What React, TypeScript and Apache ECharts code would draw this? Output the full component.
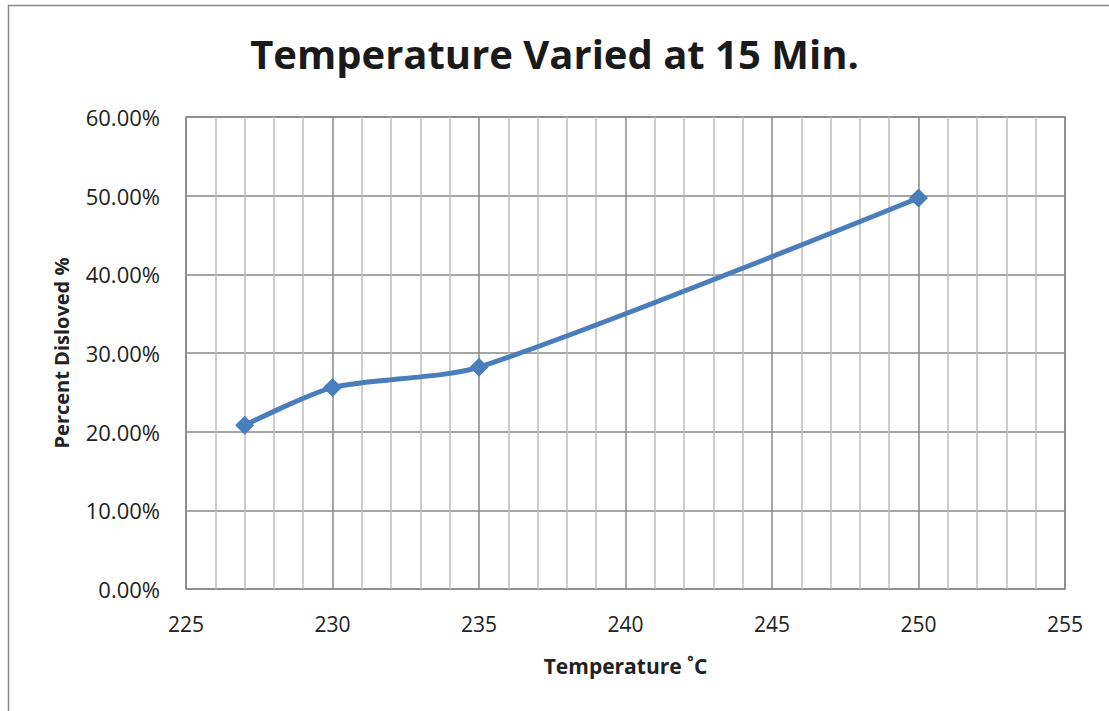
import React, { useEffect, useRef } from "react";
import * as echarts from "echarts";

const temperatures = [227, 230, 235, 250];
const dissolved = [0.208, 0.256, 0.282, 0.497];
const titleText = "Temperature Varied at 15 Min.";
const xName = "Temperature ˚C";
const yName = "Percent Disloved %";

export default function App() {
  const ref = useRef<HTMLDivElement>(null);
  useEffect(() => {
    document.body.style.margin = "0";
    const chart = echarts.init(ref.current!, null, { renderer: "svg" });
    const font = "'Open Sans', 'Noto Sans', sans-serif";
    chart.setOption({
      animation: false,
      backgroundColor: "#fff",
      textStyle: { fontFamily: font },
      title: {
        text: titleText,
        left: "center",
        top: 28,
        textStyle: { fontSize: 40, fontWeight: "bold", color: "#1a1a1a", fontFamily: font },
      },
      graphic: [
        {
          type: "rect",
          shape: { x: 8.5, y: 5.5, width: 1120, height: 720 },
          style: { fill: "none", stroke: "#888", lineWidth: 1.5 },
          silent: true,
        },
      ],
      grid: {
        left: 186,
        right: 44,
        top: 117,
        bottom: 122,
        show: true,
        borderColor: "#888",
        borderWidth: 1.5,
      },
      xAxis: {
        type: "value",
        min: 225,
        max: 255,
        interval: 5,
        name: xName,
        nameLocation: "middle",
        nameGap: 66,
        nameTextStyle: { fontSize: 21, fontWeight: "bold", color: "#222" },
        axisLine: { show: false },
        axisTick: { show: false },
        axisLabel: { fontSize: 21, color: "#222", margin: 24 },
        splitLine: { show: true, lineStyle: { color: "#888", width: 1.5 } },
        minorTick: { show: false, splitNumber: 5 },
        minorSplitLine: { show: true, lineStyle: { color: "#bdbdbd", width: 1.5 } },
      },
      yAxis: {
        type: "value",
        min: 0,
        max: 0.6,
        interval: 0.1,
        name: yName,
        nameLocation: "middle",
        nameGap: 115,
        nameRotate: 90,
        nameTextStyle: { fontSize: 20, fontWeight: "bold", color: "#222" },
        axisLine: { show: false },
        axisTick: { show: false },
        axisLabel: {
          fontSize: 22,
          color: "#222",
          margin: 26,
          formatter: (v: number) => (v * 100).toFixed(2) + "%",
        },
        splitLine: { show: true, lineStyle: { color: "#888", width: 1.5 } },
      },
      series: [
        {
          type: "line",
          data: temperatures.map((t, i) => [t, dissolved[i]]),
          smooth: 0.25,
          symbol: "diamond",
          symbolSize: 19,
          lineStyle: { color: "#4a7ebb", width: 5 },
          itemStyle: { color: "#4a7ebb" },
        },
      ],
    });
    return () => chart.dispose();
  }, []);
  return <div ref={ref} style={{ width: 1109, height: 711 }} />;
}
